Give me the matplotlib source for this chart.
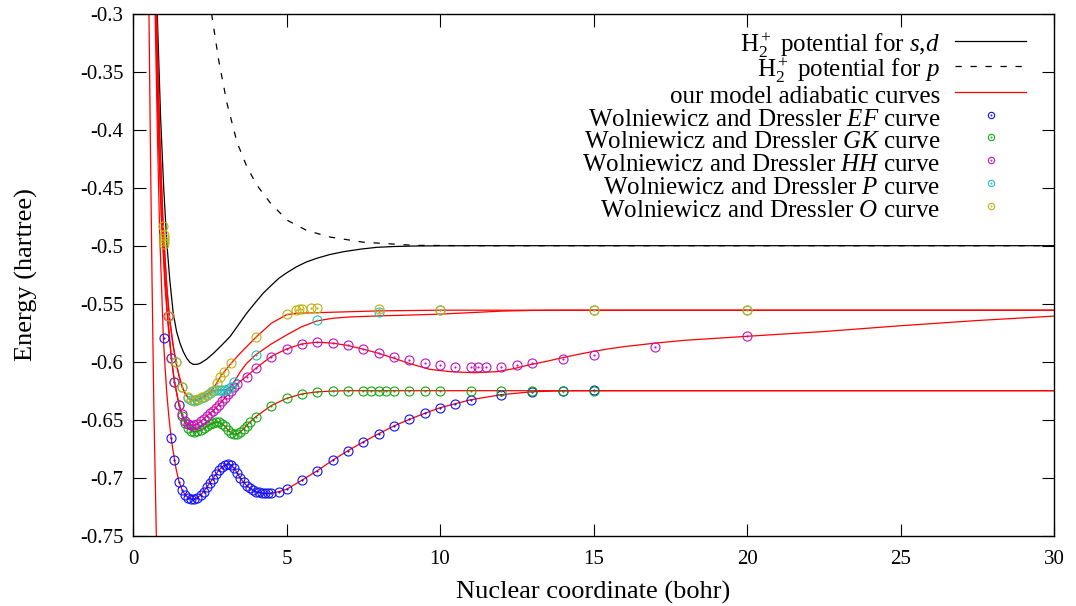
import matplotlib
matplotlib.use("Agg")
import matplotlib.pyplot as plt
from matplotlib.path import Path

plt.rcParams["font.family"] = "Liberation Serif"
plt.rcParams["mathtext.fontset"] = "custom"
plt.rcParams["mathtext.rm"] = "Liberation Serif"
plt.rcParams["mathtext.it"] = "Liberation Serif:italic"
plt.rcParams["axes.unicode_minus"] = False
plt.rcParams["font.size"] = 16

# H2+ potentials (hartree vs bohr)
sd_r = [0.74, 0.79, 0.9, 1.0, 1.1, 1.2, 1.31, 1.42, 1.53, 1.64, 1.75, 1.85, 1.96, 2.1, 2.2, 2.4, 2.62, 2.9,
        3.16, 3.4, 3.7, 4.0, 4.24, 4.5, 4.75, 5.0, 5.33, 5.65, 5.98, 6.4, 6.85, 7.4, 7.94, 8.5, 9.13, 10, 11, 30]
sd_e = [-0.22, -0.30, -0.39, -0.45, -0.497, -0.53, -0.558, -0.574, -0.584, -0.5915, -0.597, -0.6005, -0.6023,
        -0.6022, -0.6012, -0.5978, -0.5928, -0.5855, -0.5784, -0.5695, -0.5583, -0.5485, -0.541, -0.5343,
        -0.5281, -0.5235, -0.5181, -0.514, -0.5109, -0.5077, -0.5052, -0.503, -0.5014, -0.5007, -0.5003,
        -0.5001, -0.5, -0.5]
p_r = [2.45, 2.56, 2.79, 3.06, 3.39, 3.71, 4.04, 4.47, 5.02, 5.67, 6.43, 7.51, 9.15, 11, 30]
p_e = [-0.28, -0.30, -0.340, -0.377, -0.411, -0.432, -0.448, -0.463, -0.478, -0.487, -0.4926, -0.497,
       -0.4997, -0.5, -0.5]

# model adiabatic curves
low_model_r = [0.50, 0.52, 0.57, 0.62, 0.68, 0.76, 0.80]
low_model_e = [-0.26, -0.30, -0.42, -0.53, -0.64, -0.75, -0.80]

ef_model_r = [0.66, 0.72, 0.80, 0.87, 0.93, 0.99, 1.05, 1.1, 1.17, 1.24, 1.3, 1.4, 1.5, 1.6, 1.7, 1.8, 1.9,
              2.0, 2.1, 2.2, 2.3, 2.4, 2.5, 2.6, 2.7, 2.8, 2.9, 3.0, 3.1, 3.2, 3.3, 3.4, 3.5, 3.6, 3.7, 3.8,
              3.9, 4.0, 4.2, 4.4, 4.6, 4.8, 5.0, 5.5, 6.0, 6.5, 7.0, 7.5, 8.0, 8.5, 9.0, 9.5, 10.0, 10.5,
              11.0, 12.0, 13.0, 14.0, 15.0, 20, 30]
ef_model_e = [-0.22, -0.30, -0.41, -0.49, -0.535, -0.58, -0.607, -0.627, -0.648, -0.665, -0.676, -0.692,
              -0.7035, -0.7105, -0.7148, -0.7172, -0.7182, -0.7181, -0.7172, -0.715, -0.7119, -0.7083,
              -0.7045, -0.7008, -0.697, -0.6935, -0.6905, -0.6887, -0.6882, -0.6892, -0.692, -0.6962,
              -0.7005, -0.704, -0.7068, -0.709, -0.7107, -0.712, -0.7132, -0.7135, -0.7128, -0.7117, -0.71,
              -0.7022, -0.694, -0.685, -0.6767, -0.6692, -0.6621, -0.6554, -0.6497, -0.6445, -0.6397,
              -0.6362, -0.6328, -0.6284, -0.6259, -0.6251, -0.625, -0.625, -0.625]

gk_model_r = [0.68, 0.74, 0.82, 0.92, 1.04, 1.14, 1.25, 1.35, 1.45, 1.5, 1.6, 1.7, 1.8, 1.9, 2.0, 2.1, 2.2,
              2.3, 2.4, 2.5, 2.6, 2.7, 2.8, 2.9, 3.0, 3.1, 3.2, 3.3, 3.4, 3.5, 3.6, 3.7, 3.8, 4.0, 4.5, 5.0,
              5.5, 6.0, 6.5, 7.0, 30]
gk_model_e = [-0.22, -0.30, -0.40, -0.475, -0.535, -0.568, -0.597, -0.6172, -0.631, -0.637, -0.647, -0.653,
              -0.657, -0.6595, -0.6603, -0.66, -0.659, -0.6575, -0.6555, -0.654, -0.6527, -0.652, -0.6522,
              -0.6535, -0.6558, -0.659, -0.6615, -0.6627, -0.6622, -0.6605, -0.658, -0.655, -0.6522,
              -0.6474, -0.6379, -0.6316, -0.6278, -0.626, -0.6253, -0.625, -0.625]

hh_model_r = [0.69, 0.75, 0.83, 0.93, 1.05, 1.13, 1.25, 1.35, 1.5, 1.6, 1.7, 1.8, 1.9, 2.0, 2.1, 2.2, 2.3,
              2.4, 2.5, 2.6, 2.7, 2.8, 2.9, 3.0, 3.1, 3.2, 3.3, 3.4, 3.7, 4.0, 4.5, 5.0, 5.5, 6.0, 6.5, 7.0,
              7.5, 8.0, 8.5, 9.0, 9.67, 10.33, 11.1, 11.85, 12.4, 12.9, 13.5, 14.0, 14.5, 15.0, 15.5, 16.0,
              17.0, 18.0, 20.0, 22.5, 25, 27.5, 30]
hh_model_e = [-0.22, -0.30, -0.40, -0.475, -0.53, -0.5606, -0.597, -0.6172, -0.637, -0.6455, -0.651,
              -0.6538, -0.6548, -0.6546, -0.6535, -0.6515, -0.6492, -0.6468, -0.6445, -0.6422, -0.6398,
              -0.637, -0.634, -0.631, -0.628, -0.625, -0.622, -0.619, -0.6125, -0.6057, -0.5955, -0.589,
              -0.5847, -0.5832, -0.584, -0.586, -0.5892, -0.5928, -0.597, -0.6015, -0.6066, -0.6086,
              -0.6095, -0.6086, -0.6060, -0.6028, -0.5995, -0.5965, -0.5937, -0.5911, -0.5889, -0.5870,
              -0.5840, -0.5815, -0.5781, -0.5740, -0.5690, -0.5645, -0.5607]

pp_model_r = [0.70, 0.76, 0.86, 0.97, 1.1, 1.2, 1.3, 1.4, 1.5, 1.6, 1.7, 1.8, 1.9, 2.0, 2.1, 2.2, 2.3, 2.4,
              2.5, 2.6, 2.7, 2.8, 2.9, 3.0, 3.1, 3.2, 3.3, 3.5, 3.7, 4.0, 4.5, 5.0, 5.5, 6.0, 6.5, 7.0, 8.0,
              9.0, 10.0, 11.0, 12.0, 13.0, 14, 30]
pp_model_e = [-0.22, -0.30, -0.40, -0.475, -0.535, -0.565, -0.585, -0.6005, -0.612, -0.6216, -0.6275,
              -0.6312, -0.6328, -0.6332, -0.6328, -0.6318, -0.6303, -0.6287, -0.627, -0.6256, -0.6248,
              -0.6245, -0.6244, -0.6242, -0.6235, -0.6212, -0.6172, -0.6085, -0.6015, -0.594, -0.5848,
              -0.577, -0.5698, -0.5648, -0.5626, -0.5615, -0.5605, -0.5598, -0.559, -0.5577, -0.5564,
              -0.5558, -0.5556, -0.5556]

oo_model_r = [0.71, 0.77, 0.88, 0.98, 1.0, 1.1, 1.18, 1.3, 1.4, 1.5, 1.6, 1.7, 1.8, 1.9, 2.0, 2.1, 2.2, 2.3,
              2.4, 2.5, 2.6, 2.7, 2.8, 2.9, 3.0, 3.2, 3.5, 4.0, 4.5, 5.0, 5.3, 5.9, 8.0, 10, 30]
oo_model_e = [-0.22, -0.30, -0.41, -0.483, -0.495, -0.535, -0.5606, -0.584, -0.6005, -0.6125, -0.6216,
              -0.6275, -0.631, -0.633, -0.6337, -0.6328, -0.6312, -0.6292, -0.628, -0.6262, -0.6235,
              -0.6196, -0.6148, -0.6108, -0.6078, -0.6012, -0.5925, -0.579, -0.567, -0.5595, -0.5583,
              -0.5578, -0.5562, -0.5556, -0.5556]

# Wolniewicz & Dressler points
ef_r = [1.0, 1.24, 1.35, 1.5, 1.6, 1.7, 1.8, 1.9, 2.0, 2.1, 2.2, 2.3, 2.4, 2.5, 2.6, 2.7, 2.8, 2.9, 3.0, 3.1,
        3.2, 3.3, 3.4, 3.5, 3.6, 3.7, 3.8, 3.9, 4.0, 4.1, 4.2, 4.3, 4.4, 4.5, 4.75, 5.0, 5.5, 6.0, 6.5, 7.0,
        7.5, 8.0, 8.5, 9.0, 9.5, 10.0, 10.5, 11.0, 12.0, 13.0, 14.0, 15.0]
ef_e = [-0.5798, -0.6655, -0.6848, -0.7035, -0.7105, -0.7148, -0.7172, -0.7182, -0.7181, -0.7172, -0.715,
        -0.7119, -0.7083, -0.7045, -0.7008, -0.697, -0.6935, -0.6905, -0.6887, -0.6882, -0.6892, -0.692,
        -0.6962, -0.7005, -0.704, -0.7068, -0.709, -0.7107, -0.712, -0.7127, -0.7132, -0.7134, -0.7135,
        -0.7133, -0.7123, -0.71, -0.7022, -0.694, -0.685, -0.6767, -0.6692, -0.6621, -0.6554, -0.6497,
        -0.6445, -0.6397, -0.6362, -0.6328, -0.6284, -0.6259, -0.625, -0.6247]

gk_r = [1.25, 1.35, 1.5, 1.6, 1.7, 1.8, 1.9, 2.0, 2.1, 2.2, 2.3, 2.4, 2.5, 2.6, 2.7, 2.8, 2.9, 3.0, 3.1, 3.2,
        3.3, 3.4, 3.5, 3.6, 3.7, 3.8, 4.0, 4.5, 5.0, 5.5, 6.0, 6.5, 7.0, 7.5, 7.75, 8.0, 8.25, 8.5, 9.0, 9.5,
        10.0, 11.0, 12.0, 13.0, 14.0, 15.0]
gk_e = [-0.597, -0.6172, -0.637, -0.647, -0.653, -0.657, -0.6595, -0.6603, -0.66, -0.659, -0.6575, -0.6555,
        -0.654, -0.6527, -0.652, -0.6522, -0.6535, -0.6558, -0.659, -0.6615, -0.6627, -0.6622, -0.6605,
        -0.658, -0.655, -0.6522, -0.6474, -0.6379, -0.6316, -0.6278, -0.626, -0.6253, -0.625, -0.625,
        -0.625, -0.625, -0.625, -0.625, -0.625, -0.625, -0.625, -0.625, -0.625, -0.625, -0.625, -0.625]

hh_r = [1.13, 1.25, 1.35, 1.5, 1.6, 1.7, 1.8, 1.9, 2.0, 2.1, 2.2, 2.3, 2.4, 2.5, 2.6, 2.7, 2.8, 2.9, 3.0, 3.1,
        3.2, 3.3, 3.4, 3.7, 4.0, 4.5, 5.0, 5.5, 6.0, 6.5, 7.0, 7.5, 8.0, 8.5, 9.0, 9.5, 10.0, 10.5, 11.0,
        11.25, 11.5, 12.0, 12.5, 13.0, 14.0, 15.0, 17.0, 20.0]
hh_e = [-0.5606, -0.597, -0.6172, -0.637, -0.6455, -0.651, -0.6538, -0.6548, -0.6546, -0.6535, -0.6515,
        -0.6492, -0.6468, -0.6445, -0.6422, -0.6398, -0.637, -0.634, -0.631, -0.628, -0.625, -0.622, -0.619,
        -0.6129, -0.6057, -0.5957, -0.589, -0.5847, -0.583, -0.5839, -0.5859, -0.589, -0.5925, -0.596,
        -0.5988, -0.6009, -0.6028, -0.6043, -0.6048, -0.6048, -0.6048, -0.6043, -0.6028, -0.6011, -0.598,
        -0.5942, -0.5871, -0.5781]

pp_r = [1.4, 1.6, 1.8, 1.9, 2.0, 2.1, 2.2, 2.3, 2.4, 2.5, 2.6, 2.7, 2.8, 2.9, 3.0, 3.1, 3.2, 3.3, 4.0, 6.0,
        8.0, 10.0, 15.0, 20.0]
pp_e = [-0.6005, -0.6216, -0.6316, -0.6328, -0.633, -0.6327, -0.6316, -0.6302, -0.6287, -0.6268, -0.6255,
        -0.6248, -0.6245, -0.6244, -0.6243, -0.6238, -0.622, -0.6172, -0.594, -0.5643, -0.5574, -0.5555,
        -0.5555, -0.5555]

oo_r = [0.98, 1.02, 1.02, 1.02, 1.02, 1.18, 1.4, 1.6, 1.8, 2.0, 2.11, 2.24, 2.4, 2.56, 2.73, 2.83, 2.97, 3.2,
        4.0, 5.0, 5.3, 5.4, 5.5, 5.8, 6.0, 8.0, 10.0, 15.0, 20.0]
oo_e = [-0.483, -0.491, -0.4935, -0.496, -0.4985, -0.5606, -0.6005, -0.6216, -0.6307, -0.6337, -0.6324,
        -0.6307, -0.6287, -0.625, -0.6186, -0.6134, -0.6086, -0.6012, -0.579, -0.5586, -0.5554, -0.5548,
        -0.5543, -0.5534, -0.5537, -0.5548, -0.5555, -0.5555, -0.5555]

x_ticks = [0, 5, 10, 15, 20, 25, 30]
y_ticks = [-0.75, -0.7, -0.65, -0.6, -0.55, -0.5, -0.45, -0.4, -0.35, -0.3]
y_tick_labels = ["-0.75", "-0.7", "-0.65", "-0.6", "-0.55", "-0.5", "-0.45", "-0.4", "-0.35", "-0.3"]

# open circle with a centre dot, like gnuplot's pt 6
ring = Path.make_compound_path(Path.unit_circle(), Path.circle((0, 0), 0.12))

fig = plt.figure(figsize=(10.76, 6.06), dpi=100)
ax = fig.add_axes([0.1236, 0.116, 0.856, 0.8614])

ax.plot(sd_r, sd_e, color="black", lw=0.9,
        label=r"$\mathrm{H}_2^+$ potential for $\mathit{s}$,$\mathit{d}$")
ax.plot(p_r, p_e, color="black", lw=0.9, dashes=(5, 7), label=r"$\mathrm{H}_2^+$ potential for $\mathit{p}$")

red = "#ff0000"
ax.plot(ef_model_r, ef_model_e, color=red, lw=0.9, label="our model adiabatic curves")
for mr, me in [(gk_model_r, gk_model_e), (hh_model_r, hh_model_e), (pp_model_r, pp_model_e),
               (oo_model_r, oo_model_e), (low_model_r, low_model_e)]:
    ax.plot(mr, me, color=red, lw=0.9)

point_sets = [
    (ef_r, ef_e, "#1010ff", r"Wolniewicz and Dressler $\mathit{EF}$ curve"),
    (gk_r, gk_e, "#10a810", r"Wolniewicz and Dressler $\mathit{GK}$ curve"),
    (hh_r, hh_e, "#c010c0", r"Wolniewicz and Dressler $\mathit{HH}$ curve"),
    (pp_r, pp_e, "#20c0b8", r"Wolniewicz and Dressler $\mathit{P}$ curve"),
    (oo_r, oo_e, "#c0b010", r"Wolniewicz and Dressler $\mathit{O}$ curve"),
]
for r, e, c, lab in point_sets:
    ax.plot(r, e, linestyle="none", marker=ring, ms=6.5, mfc="none", mec=c, mew=0.8, label=lab)

ax.set_xlim(0, 30)
ax.set_ylim(-0.75, -0.3)
ax.set_xticks(x_ticks)
ax.set_yticks(y_ticks)
ax.set_yticklabels(y_tick_labels)
ax.tick_params(direction="in", length=9, width=0.8, top=True, right=True, labelsize=15)
ax.tick_params(axis="y", pad=7)
ax.tick_params(axis="x", pad=10)
for s in ax.spines.values():
    s.set_linewidth(1.0)

ax.set_xlabel("Nuclear coordinate (bohr)", fontsize=19, labelpad=9)
ax.set_ylabel("Energy (hartree)", fontsize=19, labelpad=30)

# tall handle boxes give every legend row the same height
ax.legend(loc="upper right", bbox_to_anchor=(0.97, 0.969), markerfirst=False, frameon=False,
          handlelength=2.85, handleheight=1.3, handletextpad=0.6, labelspacing=-0.18, borderpad=0,
          borderaxespad=0, markerscale=0.7, numpoints=1, fontsize=18)

fig.savefig("out.png", dpi=100)
